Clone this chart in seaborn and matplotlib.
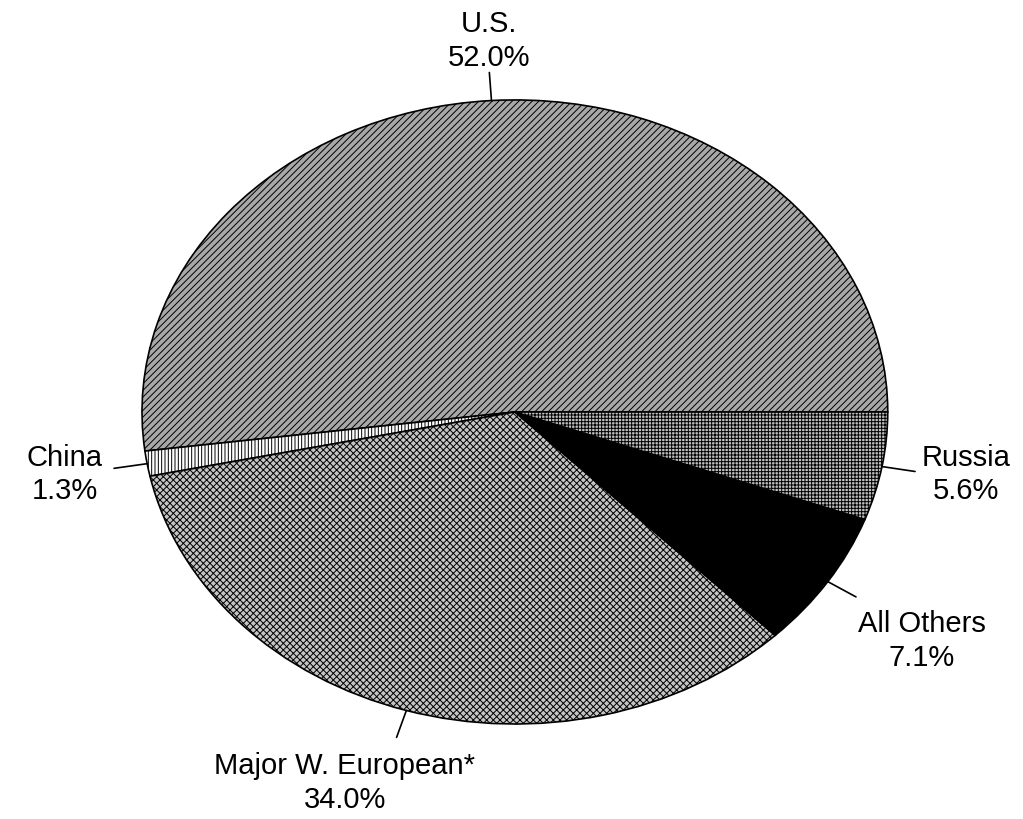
import numpy as np
import seaborn as sns
from matplotlib import pyplot as plt

sns.set_theme(style="white")
plt.rcParams["font.family"] = ["Liberation Sans", "DejaVu Sans"]
plt.rcParams["hatch.linewidth"] = 0.7
plt.rcParams["text.color"] = "black"

countries = ["U.S.", "China", "Major W. European*", "All Others", "Russia"]
shares = [52.0, 1.3, 34.0, 7.1, 5.6]

colors = ["#a8a8a8", "white", "#c4c4c4", "black", "#c0c0c0"]
hatches = ["/" * 5, "|" * 5, "x" * 5, None, "+" * 5]

# where each label sits (data coords of the stretched pie) and how it's anchored
label_pos = [(-0.07, 1.09, "center", "bottom"),
             (-1.105, -0.2, "right", "center"),
             (-0.456, -1.09, "center", "top"),
             (0.92, -0.635, "left", "top"),
             (1.09, -0.2, "left", "center")]

fig = plt.figure(figsize=(10.23, 8.19), dpi=100)
ax = fig.add_axes([0.1388, 0.116, 0.729, 0.762])

wedges, _ = ax.pie(shares, startangle=0, counterclock=True, colors=colors,
                   wedgeprops=dict(edgecolor="black", linewidth=1.2))
for w, h in zip(wedges, hatches):
    if h:
        w.set_hatch(h)

ax.set_aspect("auto")
ax.set_xlim(-1, 1)
ax.set_ylim(-1, 1)
ax.set_axis_off()

for w, name, val, (tx, ty, ha, va) in zip(wedges, countries, shares, label_pos):
    ang = np.deg2rad((w.theta1 + w.theta2) / 2)
    x0, y0 = np.cos(ang), np.sin(ang)
    ax.plot([x0, 1.09 * x0], [y0, 1.09 * y0], color="black", lw=1.2,
            clip_on=False)
    ax.text(tx, ty, f"{name}\n{val:.1f}%", ha=ha, va=va, fontsize=21,
            multialignment="center", linespacing=1.25, clip_on=False)

fig.savefig("out.png", dpi=100)
